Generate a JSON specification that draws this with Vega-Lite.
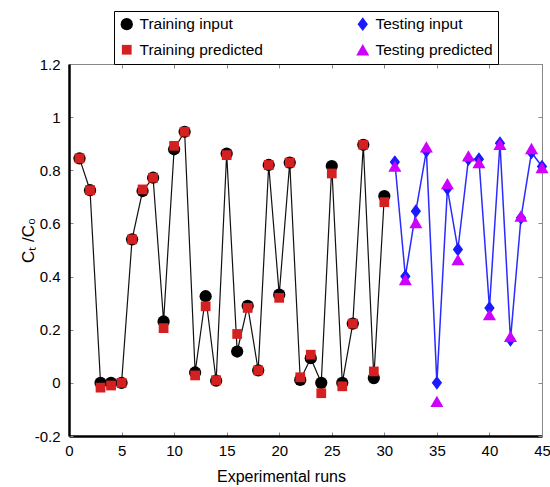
{
  "$schema": "https://vega.github.io/schema/vega-lite/v6.json",
  "width": 473,
  "height": 372,
  "autosize": "none",
  "padding": {"left": 69, "top": 64, "right": 8, "bottom": 51},
  "background": "white",
  "config": {
    "font": "Liberation Sans",
    "view": {"stroke": "#888888", "strokeWidth": 1},
    "axis": {"grid": false}
  },
  "data": {
    "values": [
      {"run": 1, "value": 0.845, "series": "Training input"},
      {"run": 2, "value": 0.725, "series": "Training input"},
      {"run": 3, "value": 0.0, "series": "Training input"},
      {"run": 4, "value": 0.0, "series": "Training input"},
      {"run": 5, "value": 0.0, "series": "Training input"},
      {"run": 6, "value": 0.54, "series": "Training input"},
      {"run": 7, "value": 0.722, "series": "Training input"},
      {"run": 8, "value": 0.772, "series": "Training input"},
      {"run": 9, "value": 0.231, "series": "Training input"},
      {"run": 10, "value": 0.879, "series": "Training input"},
      {"run": 11, "value": 0.945, "series": "Training input"},
      {"run": 12, "value": 0.039, "series": "Training input"},
      {"run": 13, "value": 0.326, "series": "Training input"},
      {"run": 14, "value": 0.008, "series": "Training input"},
      {"run": 15, "value": 0.863, "series": "Training input"},
      {"run": 16, "value": 0.118, "series": "Training input"},
      {"run": 17, "value": 0.29, "series": "Training input"},
      {"run": 18, "value": 0.047, "series": "Training input"},
      {"run": 19, "value": 0.82, "series": "Training input"},
      {"run": 20, "value": 0.332, "series": "Training input"},
      {"run": 21, "value": 0.829, "series": "Training input"},
      {"run": 22, "value": 0.011, "series": "Training input"},
      {"run": 23, "value": 0.093, "series": "Training input"},
      {"run": 24, "value": 0.0, "series": "Training input"},
      {"run": 25, "value": 0.816, "series": "Training input"},
      {"run": 26, "value": 0.0, "series": "Training input"},
      {"run": 27, "value": 0.223, "series": "Training input"},
      {"run": 28, "value": 0.896, "series": "Training input"},
      {"run": 29, "value": 0.018, "series": "Training input"},
      {"run": 30, "value": 0.703, "series": "Training input"},
      {"run": 1, "value": 0.845, "series": "Training predicted"},
      {"run": 2, "value": 0.725, "series": "Training predicted"},
      {"run": 3, "value": -0.018, "series": "Training predicted"},
      {"run": 4, "value": -0.01, "series": "Training predicted"},
      {"run": 5, "value": 0.0, "series": "Training predicted"},
      {"run": 6, "value": 0.54, "series": "Training predicted"},
      {"run": 7, "value": 0.728, "series": "Training predicted"},
      {"run": 8, "value": 0.772, "series": "Training predicted"},
      {"run": 9, "value": 0.206, "series": "Training predicted"},
      {"run": 10, "value": 0.892, "series": "Training predicted"},
      {"run": 11, "value": 0.945, "series": "Training predicted"},
      {"run": 12, "value": 0.028, "series": "Training predicted"},
      {"run": 13, "value": 0.288, "series": "Training predicted"},
      {"run": 14, "value": 0.01, "series": "Training predicted"},
      {"run": 15, "value": 0.857, "series": "Training predicted"},
      {"run": 16, "value": 0.184, "series": "Training predicted"},
      {"run": 17, "value": 0.282, "series": "Training predicted"},
      {"run": 18, "value": 0.047, "series": "Training predicted"},
      {"run": 19, "value": 0.82, "series": "Training predicted"},
      {"run": 20, "value": 0.32, "series": "Training predicted"},
      {"run": 21, "value": 0.829, "series": "Training predicted"},
      {"run": 22, "value": 0.021, "series": "Training predicted"},
      {"run": 23, "value": 0.106, "series": "Training predicted"},
      {"run": 24, "value": -0.039, "series": "Training predicted"},
      {"run": 25, "value": 0.788, "series": "Training predicted"},
      {"run": 26, "value": -0.013, "series": "Training predicted"},
      {"run": 27, "value": 0.223, "series": "Training predicted"},
      {"run": 28, "value": 0.896, "series": "Training predicted"},
      {"run": 29, "value": 0.043, "series": "Training predicted"},
      {"run": 30, "value": 0.68, "series": "Training predicted"},
      {"run": 31, "value": 0.831, "series": "Testing input"},
      {"run": 32, "value": 0.401, "series": "Testing input"},
      {"run": 33, "value": 0.646, "series": "Testing input"},
      {"run": 34, "value": 0.873, "series": "Testing input"},
      {"run": 35, "value": 0.0, "series": "Testing input"},
      {"run": 36, "value": 0.731, "series": "Testing input"},
      {"run": 37, "value": 0.502, "series": "Testing input"},
      {"run": 38, "value": 0.842, "series": "Testing input"},
      {"run": 39, "value": 0.842, "series": "Testing input"},
      {"run": 40, "value": 0.282, "series": "Testing input"},
      {"run": 41, "value": 0.902, "series": "Testing input"},
      {"run": 42, "value": 0.162, "series": "Testing input"},
      {"run": 43, "value": 0.621, "series": "Testing input"},
      {"run": 44, "value": 0.867, "series": "Testing input"},
      {"run": 45, "value": 0.814, "series": "Testing input"},
      {"run": 31, "value": 0.816, "series": "Testing predicted"},
      {"run": 32, "value": 0.389, "series": "Testing predicted"},
      {"run": 33, "value": 0.603, "series": "Testing predicted"},
      {"run": 34, "value": 0.888, "series": "Testing predicted"},
      {"run": 35, "value": -0.07, "series": "Testing predicted"},
      {"run": 36, "value": 0.75, "series": "Testing predicted"},
      {"run": 37, "value": 0.464, "series": "Testing predicted"},
      {"run": 38, "value": 0.854, "series": "Testing predicted"},
      {"run": 39, "value": 0.829, "series": "Testing predicted"},
      {"run": 40, "value": 0.257, "series": "Testing predicted"},
      {"run": 41, "value": 0.898, "series": "Testing predicted"},
      {"run": 42, "value": 0.175, "series": "Testing predicted"},
      {"run": 43, "value": 0.628, "series": "Testing predicted"},
      {"run": 44, "value": 0.882, "series": "Testing predicted"},
      {"run": 45, "value": 0.81, "series": "Testing predicted"}
    ]
  },
  "resolve": {"axis": {"x": "independent", "y": "independent"}},
  "layer": [
    {
      "transform": [{"filter": "datum.series === 'Training input'"}],
      "mark": {"type": "line", "color": "#111111", "strokeWidth": 1.2},
      "encoding": {
        "x": {
          "field": "run", "type": "quantitative",
          "scale": {"domain": [0, 45], "nice": false, "zero": false},
          "axis": {
            "orient": "bottom", "title": "Experimental runs",
            "values": [0, 5, 10, 15, 20, 25, 30, 35, 40, 45],
            "tickSize": -4, "tickColor": "#888888", "tickWidth": 1,
            "domainColor": "#000000", "domainWidth": 2.5,
            "labelPadding": 11, "labelFontSize": 15, "labelColor": "#000000",
            "labelFont": "Liberation Sans", "labelFlush": false,
            "titleFont": "Liberation Sans", "titleFontSize": 16, "titleFontWeight": "normal",
            "titleColor": "#000000", "titleX": 212, "titleY": 32
          }
        },
        "y": {
          "field": "value", "type": "quantitative",
          "scale": {"domain": [-0.2, 1.2], "nice": false, "zero": false},
          "axis": {
            "orient": "left", "title": "Cₜ /C₀",
            "values": [-0.2, 0, 0.2, 0.4, 0.6, 0.8, 1, 1.2],
            "labelExpr": "'' + datum.value",
            "tickSize": -4, "tickColor": "#888888", "tickWidth": 1,
            "domainColor": "#000000", "domainWidth": 2.5,
            "labelPadding": 13, "labelFontSize": 15, "labelColor": "#000000",
            "labelFont": "Liberation Sans", "labelFlush": false,
            "titleFont": "Liberation Sans", "titleFontSize": 17, "titleFontWeight": "normal",
            "titleColor": "#000000", "titleX": -41, "titleY": 176, "titleBaseline": "middle", "titleAngle": -90
          }
        }
      }
    },
    {
      "transform": [{"filter": "datum.series === 'Testing input'"}],
      "mark": {"type": "line", "color": "#2b2bff", "strokeWidth": 1.5},
      "encoding": {
        "x": {
          "field": "run", "type": "quantitative",
          "axis": {
            "orient": "top", "title": null, "labels": false,
            "values": [0, 5, 10, 15, 20, 25, 30, 35, 40, 45],
            "tickSize": -4, "tickColor": "#888888", "tickWidth": 1,
            "domainColor": "#888888", "domainWidth": 1
          }
        },
        "y": {
          "field": "value", "type": "quantitative",
          "axis": {
            "orient": "right", "title": null, "labels": false,
            "values": [-0.2, 0, 0.2, 0.4, 0.6, 0.8, 1, 1.2],
            "tickSize": -4, "tickColor": "#888888", "tickWidth": 1,
            "domainColor": "#888888", "domainWidth": 1
          }
        }
      }
    },
    {
      "mark": {"type": "point", "filled": true, "opacity": 1, "strokeWidth": 0},
      "encoding": {
        "x": {"field": "run", "type": "quantitative", "axis": null},
        "y": {"field": "value", "type": "quantitative", "axis": null},
        "color": {
          "field": "series", "type": "nominal",
          "scale": {
            "domain": ["Training input", "Training predicted", "Testing input", "Testing predicted"],
            "range": ["#000000", "#d42020", "#1a1aff", "#d000ff"]
          },
          "legend": {
            "title": null, "orient": "none", "legendX": 45, "legendY": -53,
            "columns": 2, "columnPadding": 92, "rowPadding": 9,
            "padding": 5, "strokeColor": "#000000", "fillColor": "#ffffff",
            "labelFont": "Liberation Sans", "labelFontSize": 15.5, "labelColor": "#000000",
            "labelOffset": 5, "symbolSize": 100, "symbolStrokeWidth": 0, "labelLimit": 300,
            "encode": {"symbols": {"update": {"size": {"value": 110}}}}
          }
        },
        "shape": {
          "field": "series", "type": "nominal",
          "scale": {
            "domain": ["Training input", "Training predicted", "Testing input", "Testing predicted"],
            "range": ["circle", "square", "M0,-1L0.75,0L0,1L-0.75,0Z", "triangle-up"]
          },
          "legend": null
        },
        "size": {
          "field": "series", "type": "nominal",
          "scale": {
            "type": "ordinal",
            "domain": ["Training input", "Training predicted", "Testing input", "Testing predicted"],
            "range": [150, 95, 190, 170]
          },
          "legend": null
        }
      }
    }
  ]
}
